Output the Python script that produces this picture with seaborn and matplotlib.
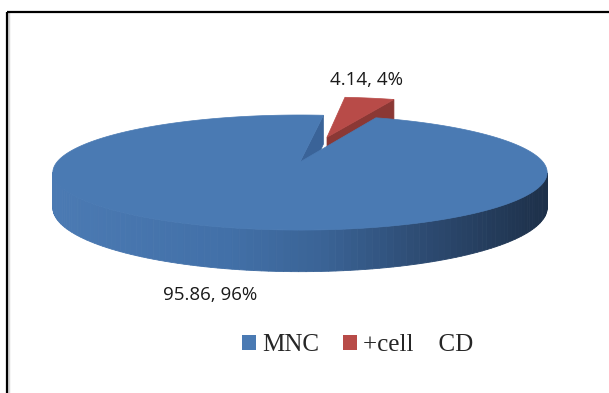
import numpy as np
import matplotlib
matplotlib.use("Agg")
import matplotlib.pyplot as plt
import seaborn as sns
from matplotlib.patches import Polygon, Patch
from matplotlib.lines import Line2D
from matplotlib.colors import LinearSegmentedColormap

# ---------------- data ----------------
categories = ["MNC", "+cell    CD"]
values = [95.86, 4.14]
explode = [0.0, 0.5]

# ---------------- style ----------------
top_colors = ["#4A7AB3", "#B84B48"]
cut_colors = ["#3A6398", "#8B3835"]
side_cmaps = [
    LinearSegmentedColormap.from_list(
        "bside", [(0, "#4B7AB3"), (0.35, "#4270A8"), (0.55, "#3A6395"),
                  (0.75, "#2D4B72"), (1, "#1D3049")]),
    LinearSegmentedColormap.from_list("rside", ["#9C403D", "#6E2A28"]),
]
start_angle = 83.45

sns.set_theme(style="white")
plt.rcParams['font.family'] = ['Open Sans', 'DejaVu Sans']

W, H = 609, 393
fig = plt.figure(figsize=(W / 100, H / 100), dpi=100)
ax = fig.add_axes([0, 0, 1, 1])
ax.set_xlim(0, W)
ax.set_ylim(H, 0)
ax.axis('off')

# perspective projection of a unit disc (pixel space)
CX, CY = 300, 162
SX, SY, K, DEPTH = 243, 55.6, 0.183, 34


def proj(X, Y, bottom=False):
    w = 1 + K * Y
    u = CX + SX * X / w
    v = CY - SY * Y / w + (DEPTH / w if bottom else 0.0)
    return (u, v)


def area(pts):
    a = 0.0
    for i in range(len(pts)):
        x1, y1 = pts[i]
        x2, y2 = pts[(i + 1) % len(pts)]
        a += x1 * y2 - x2 * y1
    return a


total = float(sum(values))
slices = []
a0 = start_angle
for i, v in enumerate(values):
    span = 360.0 * v / total
    t1, t2 = a0, a0 + span
    mid = np.deg2rad((t1 + t2) / 2)
    ox, oy = explode[i] * np.cos(mid), explode[i] * np.sin(mid)
    slices.append(dict(i=i, t1=t1, t2=t2, ox=ox, oy=oy, mid=mid))
    a0 = t2

# far slices first
slices.sort(key=lambda s: -np.sin(s["mid"]))

umin, umax = CX - 247, CX + 247
for s in slices:
    i = s["i"]
    ts = np.deg2rad(np.linspace(s["t1"], s["t2"], 240))
    ox, oy = s["ox"], s["oy"]
    rimX = ox + np.cos(ts)
    rimY = oy + np.sin(ts)
    # outer side strips
    strips = []
    for j in range(len(ts) - 1):
        q = [proj(rimX[j], rimY[j]), proj(rimX[j + 1], rimY[j + 1]),
             proj(rimX[j + 1], rimY[j + 1], True), proj(rimX[j], rimY[j], True)]
        if area(q) > 0:
            depth = (rimY[j] + rimY[j + 1]) / 2
            um = (q[0][0] + q[1][0]) / 2
            strips.append((depth, q, um))
    strips.sort(key=lambda z: -z[0])
    for depth, q, um in strips:
        p = np.clip((um - umin) / (umax - umin), 0, 1)
        c = side_cmaps[i](p)
        ax.add_patch(Polygon(q, closed=True, facecolor=c, edgecolor=c, lw=0.6))
    # radial cut faces
    for k, (tx, ty) in enumerate([(rimX[0], rimY[0]), (rimX[-1], rimY[-1])]):
        q = [proj(ox, oy), proj(tx, ty), proj(tx, ty, True), proj(ox, oy, True)]
        a = area(q)
        if (k == 0 and a > 0) or (k == 1 and a < 0):
            ax.add_patch(Polygon(q, closed=True, facecolor=cut_colors[i],
                                 edgecolor=cut_colors[i], lw=0.5))
    # top face
    pts = [proj(ox, oy)] + [proj(x, y) for x, y in zip(rimX, rimY)]
    ax.add_patch(Polygon(pts, closed=True, facecolor=top_colors[i],
                         edgecolor=top_colors[i], lw=0.5))

# data labels
label_pos = {0: (210, 294.5), 1: (366.5, 80)}
for i, v in enumerate(values):
    pct = round(100 * v / total)
    ax.text(*label_pos[i], f"{v:.2f}, {pct}%", ha="center", va="center",
            fontsize=13.5, color="#1a1a1a", family=["Open Sans", "DejaVu Sans"])

# legend
handles = [Patch(facecolor=top_colors[i], edgecolor="none", label=categories[i])
           for i in range(len(categories))]
ax.legend(handles=handles, loc="center", bbox_to_anchor=(357.5 / W, 1 - 345 / H),
          ncol=2, frameon=False,
          prop={"family": "Liberation Serif", "size": 18},
          handlelength=0.55, handleheight=0.55, handletextpad=0.25,
          columnspacing=0.95, borderpad=0, borderaxespad=0)

# chart frame (left and top border)
fig.add_artist(Line2D([7.5 / W, 7.5 / W], [0, 1 - 12 / H], color="#b0b0b0", lw=2.5,
                      solid_capstyle="butt", alpha=0.5))
fig.add_artist(Line2D([7 / W, 7 / W], [0, 1 - 12 / H], color="black", lw=1.6,
                      solid_capstyle="butt"))
fig.add_artist(Line2D([7 / W, 1], [1 - 12 / H, 1 - 12 / H], color="black", lw=1.6,
                      solid_capstyle="butt"))

fig.savefig("out.png", dpi=100)
